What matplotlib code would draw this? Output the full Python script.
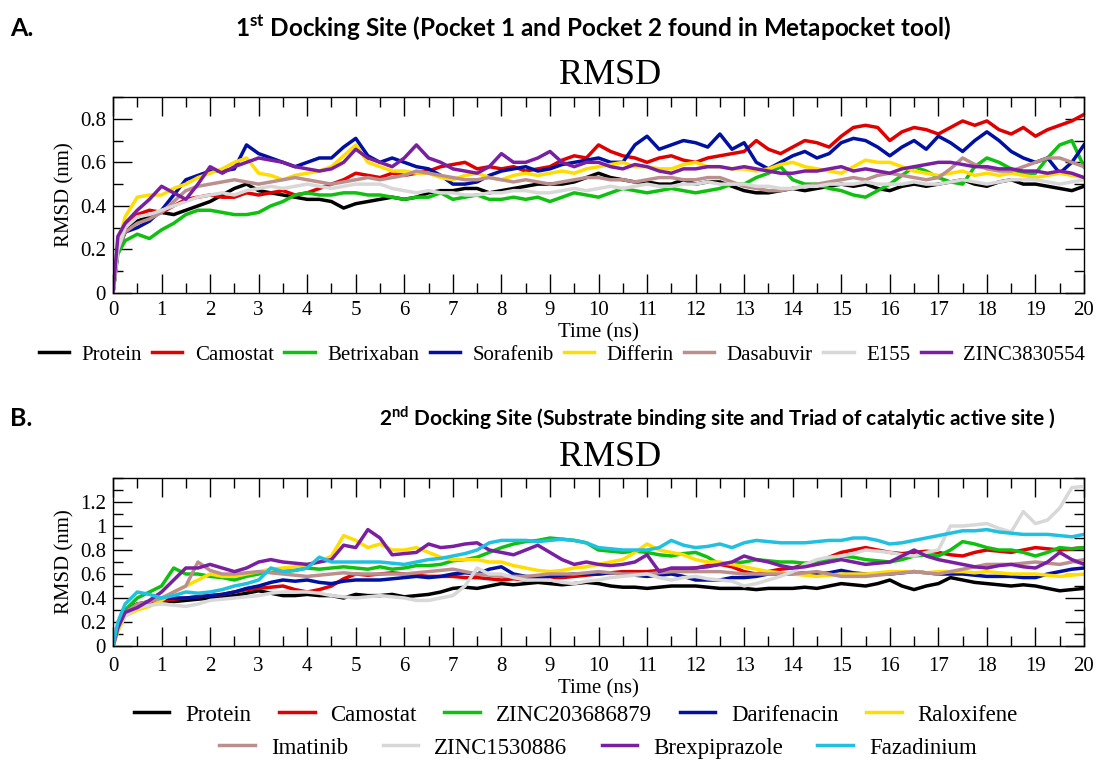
import numpy as np
import matplotlib
matplotlib.use("Agg")
import matplotlib.pyplot as plt

plt.rcParams['mathtext.fontset'] = 'custom'
plt.rcParams['mathtext.rm'] = 'Lato'
plt.rcParams['mathtext.bf'] = 'Lato:bold'

SERIF = 'Liberation Serif'

# ---------------- data ----------------
time_ns = [0, 0.1] + [0.25 * k for k in range(1, 81)]

# Panel A: 1st docking site
a_names = ["Protein", "Camostat", "Betrixaban", "Sorafenib", "Differin",
           "Dasabuvir", "E155", "ZINC3830554"]
a_protein = [0, 0.2, 0.28, 0.33, 0.35, 0.37, 0.36, 0.38, 0.4, 0.42, 0.45, 0.48, 0.5, 0.47, 0.46, 0.45,
             0.44, 0.43, 0.43, 0.42, 0.39, 0.41, 0.42, 0.43, 0.44, 0.43, 0.44, 0.46, 0.47, 0.47, 0.48,
             0.48, 0.46, 0.47, 0.48, 0.49, 0.5, 0.5, 0.5, 0.51, 0.53, 0.55, 0.53, 0.52, 0.51, 0.51,
             0.5, 0.5, 0.52, 0.5, 0.51, 0.51, 0.49, 0.47, 0.46, 0.46, 0.47, 0.48, 0.47, 0.48, 0.49,
             0.5, 0.49, 0.5, 0.48, 0.47, 0.49, 0.5, 0.49, 0.5, 0.51, 0.52, 0.5, 0.49, 0.51, 0.52,
             0.5, 0.5, 0.49, 0.48, 0.47, 0.49]
a_camostat = [0, 0.2, 0.3, 0.36, 0.38, 0.37, 0.4, 0.43, 0.44, 0.45, 0.44, 0.44, 0.46, 0.45, 0.46, 0.47,
              0.45, 0.46, 0.48, 0.5, 0.52, 0.55, 0.54, 0.53, 0.55, 0.54, 0.55, 0.56, 0.58, 0.59, 0.6,
              0.57, 0.58, 0.57, 0.58, 0.56, 0.57, 0.58, 0.61, 0.63, 0.62, 0.68, 0.65, 0.63, 0.62, 0.6,
              0.62, 0.63, 0.61, 0.6, 0.62, 0.63, 0.64, 0.65, 0.7, 0.66, 0.64, 0.67, 0.7, 0.69, 0.67,
              0.72, 0.76, 0.77, 0.76, 0.7, 0.74, 0.76, 0.75, 0.73, 0.76, 0.79, 0.77, 0.79, 0.75, 0.73,
              0.76, 0.72, 0.75, 0.77, 0.79, 0.82]
a_betrixaban = [0, 0.18, 0.24, 0.27, 0.25, 0.29, 0.32, 0.36, 0.38, 0.38, 0.37, 0.36, 0.36, 0.37, 0.4,
                0.42, 0.45, 0.46, 0.45, 0.45, 0.46, 0.46, 0.45, 0.45, 0.44, 0.43, 0.44, 0.44, 0.46,
                0.43, 0.44, 0.45, 0.43, 0.43, 0.44, 0.43, 0.44, 0.42, 0.44, 0.46, 0.45, 0.44, 0.46,
                0.48, 0.47, 0.46, 0.47, 0.48, 0.47, 0.46, 0.47, 0.48, 0.5, 0.5, 0.53, 0.55, 0.58,
                0.52, 0.5, 0.5, 0.48, 0.47, 0.45, 0.44, 0.47, 0.5, 0.54, 0.58, 0.56, 0.53, 0.51, 0.5,
                0.58, 0.62, 0.6, 0.57, 0.55, 0.55, 0.62, 0.68, 0.7, 0.58]
a_sorafenib = [0, 0.2, 0.28, 0.3, 0.33, 0.38, 0.45, 0.52, 0.54, 0.56, 0.56, 0.57, 0.68, 0.64, 0.62,
               0.6, 0.58, 0.6, 0.62, 0.62, 0.67, 0.71, 0.63, 0.6, 0.62, 0.6, 0.58, 0.57, 0.54, 0.5,
               0.5, 0.51, 0.54, 0.56, 0.57, 0.58, 0.56, 0.57, 0.59, 0.6, 0.61, 0.62, 0.6, 0.6, 0.68,
               0.72, 0.66, 0.68, 0.7, 0.69, 0.67, 0.73, 0.66, 0.69, 0.6, 0.57, 0.6, 0.63, 0.65, 0.62,
               0.64, 0.69, 0.71, 0.7, 0.67, 0.63, 0.67, 0.7, 0.66, 0.72, 0.69, 0.65, 0.7, 0.74, 0.7,
               0.65, 0.62, 0.6, 0.62, 0.55, 0.6, 0.68]
a_differin = [0, 0.22, 0.35, 0.44, 0.45, 0.45, 0.48, 0.5, 0.53, 0.55, 0.57, 0.6, 0.62, 0.55, 0.54,
              0.52, 0.54, 0.55, 0.56, 0.58, 0.63, 0.68, 0.6, 0.58, 0.56, 0.56, 0.55, 0.55, 0.53, 0.52,
              0.54, 0.55, 0.53, 0.52, 0.54, 0.55, 0.54, 0.55, 0.56, 0.55, 0.57, 0.58, 0.59, 0.6,
              0.58, 0.58, 0.57, 0.57, 0.59, 0.6, 0.58, 0.58, 0.57, 0.57, 0.56, 0.57, 0.59, 0.6, 0.58,
              0.57, 0.56, 0.55, 0.58, 0.61, 0.6, 0.6, 0.58, 0.56, 0.55, 0.54, 0.55, 0.56, 0.54, 0.55,
              0.54, 0.55, 0.54, 0.53, 0.54, 0.55, 0.54, 0.53]
a_dasabuvir = [0, 0.2, 0.28, 0.32, 0.34, 0.37, 0.42, 0.47, 0.49, 0.5, 0.51, 0.52, 0.51, 0.5, 0.51,
               0.52, 0.53, 0.52, 0.51, 0.5, 0.51, 0.52, 0.53, 0.52, 0.53, 0.54, 0.56, 0.55, 0.54,
               0.53, 0.52, 0.52, 0.53, 0.52, 0.51, 0.52, 0.51, 0.5, 0.51, 0.52, 0.53, 0.53, 0.52,
               0.52, 0.51, 0.52, 0.53, 0.53, 0.52, 0.52, 0.53, 0.53, 0.51, 0.49, 0.48, 0.47, 0.47,
               0.48, 0.49, 0.5, 0.51, 0.52, 0.53, 0.52, 0.54, 0.55, 0.54, 0.53, 0.52, 0.53, 0.57,
               0.62, 0.59, 0.57, 0.56, 0.56, 0.58, 0.6, 0.62, 0.62, 0.6, 0.58]
a_e155 = [0, 0.2, 0.3, 0.35, 0.36, 0.38, 0.4, 0.42, 0.44, 0.45, 0.46, 0.45, 0.47, 0.48, 0.49, 0.48,
          0.49, 0.5, 0.49, 0.48, 0.49, 0.5, 0.5, 0.5, 0.48, 0.47, 0.46, 0.47, 0.46, 0.46, 0.45, 0.45,
          0.46, 0.46, 0.47, 0.47, 0.46, 0.46, 0.47, 0.48, 0.47, 0.48, 0.49, 0.48, 0.49, 0.5, 0.49,
          0.49, 0.5, 0.5, 0.51, 0.5, 0.5, 0.5, 0.49, 0.49, 0.48, 0.48, 0.49, 0.49, 0.5, 0.5, 0.5,
          0.51, 0.5, 0.5, 0.5, 0.51, 0.5, 0.5, 0.51, 0.52, 0.51, 0.5, 0.51, 0.52, 0.52, 0.52, 0.51,
          0.5, 0.51, 0.52]
a_zinc3830554 = [0, 0.26, 0.32, 0.38, 0.43, 0.49, 0.46, 0.43, 0.5, 0.58, 0.55, 0.58, 0.6, 0.62, 0.61,
                 0.6, 0.58, 0.57, 0.56, 0.57, 0.6, 0.66, 0.62, 0.6, 0.58, 0.62, 0.68, 0.62, 0.6,
                 0.57, 0.56, 0.55, 0.58, 0.64, 0.6, 0.6, 0.62, 0.65, 0.6, 0.58, 0.6, 0.6, 0.58, 0.57,
                 0.59, 0.58, 0.56, 0.55, 0.57, 0.57, 0.58, 0.58, 0.57, 0.58, 0.57, 0.56, 0.55, 0.55,
                 0.56, 0.56, 0.57, 0.58, 0.56, 0.57, 0.56, 0.55, 0.57, 0.58, 0.59, 0.6, 0.6, 0.59,
                 0.58, 0.58, 0.57, 0.57, 0.56, 0.56, 0.55, 0.56, 0.55, 0.53]

# Panel B: 2nd docking site
b_names = ["Protein", "Camostat", "ZINC203686879", "Darifenacin", "Raloxifene",
           "Imatinib", "ZINC1530886", "Brexpiprazole", "Fazadinium"]
b_protein = [0, 0.15, 0.3, 0.35, 0.36, 0.38, 0.37, 0.38, 0.39, 0.4, 0.41, 0.42, 0.44, 0.46, 0.44,
             0.42, 0.42, 0.43, 0.42, 0.42, 0.4, 0.43, 0.42, 0.42, 0.43, 0.41, 0.42, 0.43, 0.45,
             0.48, 0.49, 0.48, 0.5, 0.52, 0.51, 0.52, 0.53, 0.52, 0.51, 0.52, 0.53, 0.52, 0.5,
             0.49, 0.49, 0.48, 0.49, 0.5, 0.5, 0.5, 0.49, 0.48, 0.48, 0.48, 0.47, 0.48, 0.48, 0.48,
             0.49, 0.48, 0.5, 0.52, 0.51, 0.5, 0.52, 0.55, 0.5, 0.47, 0.5, 0.52, 0.57, 0.55, 0.53,
             0.52, 0.51, 0.5, 0.51, 0.5, 0.48, 0.46, 0.47, 0.48]
b_camostat = [0, 0.15, 0.28, 0.35, 0.36, 0.38, 0.39, 0.4, 0.41, 0.42, 0.43, 0.45, 0.47, 0.48, 0.49,
              0.5, 0.47, 0.45, 0.47, 0.5, 0.56, 0.6, 0.59, 0.6, 0.61, 0.6, 0.59, 0.58, 0.58, 0.58,
              0.57, 0.57, 0.56, 0.55, 0.56, 0.55, 0.56, 0.57, 0.57, 0.58, 0.59, 0.6, 0.61, 0.62,
              0.62, 0.62, 0.63, 0.63, 0.64, 0.65, 0.67, 0.68, 0.66, 0.62, 0.6, 0.62, 0.64, 0.65,
              0.68, 0.7, 0.74, 0.78, 0.8, 0.82, 0.8, 0.78, 0.77, 0.78, 0.79, 0.78, 0.76, 0.75, 0.78,
              0.8, 0.79, 0.78, 0.8, 0.82, 0.81, 0.8, 0.81, 0.82]
b_zinc203686879 = [0, 0.15, 0.3, 0.4, 0.45, 0.5, 0.65, 0.6, 0.6, 0.58, 0.57, 0.55, 0.58, 0.6, 0.62,
                   0.62, 0.63, 0.65, 0.64, 0.65, 0.66, 0.65, 0.64, 0.66, 0.64, 0.65, 0.67, 0.67, 0.68,
                   0.71, 0.72, 0.74, 0.78, 0.82, 0.85, 0.87, 0.88, 0.9, 0.89, 0.88, 0.86, 0.8, 0.79,
                   0.78, 0.79, 0.78, 0.76, 0.75, 0.77, 0.78, 0.74, 0.68, 0.69, 0.7, 0.72, 0.71, 0.7,
                   0.7, 0.69, 0.7, 0.72, 0.75, 0.74, 0.72, 0.71, 0.7, 0.72, 0.75, 0.76, 0.75, 0.8, 0.87,
                   0.85, 0.82, 0.8, 0.8, 0.78, 0.75, 0.78, 0.82, 0.81, 0.82]
b_darifenacin = [0, 0.15, 0.28, 0.35, 0.37, 0.4, 0.4, 0.4, 0.41, 0.42, 0.43, 0.45, 0.48, 0.5, 0.53,
                 0.55, 0.54, 0.55, 0.53, 0.52, 0.54, 0.55, 0.55, 0.55, 0.56, 0.57, 0.58, 0.57, 0.58,
                 0.6, 0.61, 0.6, 0.64, 0.66, 0.6, 0.58, 0.57, 0.58, 0.59, 0.6, 0.6, 0.6, 0.61, 0.6,
                 0.59, 0.58, 0.59, 0.6, 0.58, 0.55, 0.55, 0.55, 0.57, 0.57, 0.58, 0.6, 0.6, 0.6, 0.61,
                 0.6, 0.61, 0.63, 0.61, 0.6, 0.6, 0.6, 0.61, 0.62, 0.61, 0.6, 0.6, 0.6, 0.59, 0.58,
                 0.58, 0.58, 0.57, 0.57, 0.6, 0.62, 0.64, 0.65]
b_raloxifene = [0, 0.12, 0.25, 0.3, 0.33, 0.38, 0.45, 0.5, 0.55, 0.6, 0.58, 0.58, 0.6, 0.62, 0.64,
                0.65, 0.66, 0.68, 0.7, 0.75, 0.92, 0.88, 0.82, 0.85, 0.8, 0.8, 0.82, 0.78, 0.74, 0.72,
                0.72, 0.72, 0.7, 0.7, 0.67, 0.65, 0.63, 0.62, 0.63, 0.65, 0.66, 0.68, 0.7, 0.72,
                0.78, 0.85, 0.8, 0.78, 0.76, 0.72, 0.7, 0.7, 0.68, 0.66, 0.64, 0.62, 0.61, 0.6, 0.59,
                0.58, 0.59, 0.6, 0.6, 0.6, 0.61, 0.62, 0.62, 0.62, 0.61, 0.62, 0.62, 0.62, 0.61, 0.62,
                0.61, 0.6, 0.6, 0.6, 0.59, 0.58, 0.59, 0.6]
b_imatinib = [0, 0.15, 0.28, 0.35, 0.37, 0.4, 0.45, 0.5, 0.7, 0.63, 0.6, 0.6, 0.61, 0.62, 0.61, 0.6,
              0.59, 0.58, 0.59, 0.6, 0.61, 0.6, 0.6, 0.6, 0.6, 0.6, 0.61, 0.62, 0.63, 0.64, 0.62,
              0.6, 0.59, 0.58, 0.58, 0.58, 0.59, 0.6, 0.6, 0.6, 0.61, 0.62, 0.61, 0.6, 0.6, 0.6,
              0.61, 0.62, 0.62, 0.62, 0.62, 0.62, 0.61, 0.6, 0.6, 0.6, 0.6, 0.6, 0.61, 0.62, 0.6,
              0.58, 0.58, 0.58, 0.59, 0.6, 0.61, 0.62, 0.61, 0.6, 0.62, 0.64, 0.66, 0.68, 0.68, 0.68,
              0.69, 0.7, 0.69, 0.68, 0.7, 0.72]
b_zinc1530886 = [0, 0.15, 0.25, 0.32, 0.34, 0.35, 0.34, 0.33, 0.35, 0.38, 0.39, 0.4, 0.41, 0.42, 0.44,
                 0.45, 0.45, 0.45, 0.44, 0.42, 0.41, 0.4, 0.41, 0.42, 0.41, 0.4, 0.38, 0.38, 0.4,
                 0.42, 0.5, 0.65, 0.6, 0.6, 0.57, 0.55, 0.55, 0.55, 0.53, 0.52, 0.54, 0.55, 0.57,
                 0.58, 0.59, 0.6, 0.57, 0.55, 0.57, 0.58, 0.56, 0.55, 0.54, 0.5, 0.52, 0.55, 0.58,
                 0.62, 0.68, 0.72, 0.74, 0.75, 0.77, 0.8, 0.79, 0.78, 0.76, 0.75, 0.78, 0.8, 1.0, 1.0,
                 1.01, 1.02, 0.98, 0.95, 1.12, 1.02, 1.05, 1.15, 1.32, 1.33]
b_brexpiprazole = [0, 0.15, 0.28, 0.32, 0.38, 0.45, 0.55, 0.65, 0.65, 0.68, 0.65, 0.62, 0.65, 0.7,
                   0.72, 0.7, 0.69, 0.68, 0.7, 0.72, 0.84, 0.82, 0.97, 0.9, 0.76, 0.77, 0.78, 0.85,
                   0.82, 0.83, 0.85, 0.86, 0.8, 0.78, 0.76, 0.8, 0.84, 0.78, 0.72, 0.68, 0.7, 0.68,
                   0.67, 0.68, 0.7, 0.76, 0.62, 0.65, 0.65, 0.65, 0.66, 0.68, 0.7, 0.75, 0.72, 0.7,
                   0.67, 0.65, 0.66, 0.68, 0.7, 0.72, 0.7, 0.68, 0.69, 0.7, 0.75, 0.8, 0.75, 0.72, 0.7,
                   0.68, 0.66, 0.65, 0.67, 0.68, 0.66, 0.65, 0.7, 0.78, 0.72, 0.68]
b_fazadinium = [0, 0.2, 0.35, 0.45, 0.43, 0.4, 0.42, 0.45, 0.44, 0.45, 0.47, 0.5, 0.52, 0.55, 0.65,
                0.62, 0.63, 0.65, 0.74, 0.7, 0.7, 0.7, 0.7, 0.7, 0.69, 0.68, 0.7, 0.72, 0.73, 0.75,
                0.77, 0.8, 0.86, 0.88, 0.88, 0.88, 0.87, 0.88, 0.89, 0.88, 0.86, 0.82, 0.81, 0.8, 0.8,
                0.8, 0.82, 0.88, 0.84, 0.82, 0.83, 0.85, 0.82, 0.86, 0.88, 0.87, 0.86, 0.86, 0.86,
                0.87, 0.88, 0.88, 0.9, 0.9, 0.88, 0.85, 0.86, 0.88, 0.9, 0.92, 0.94, 0.96, 0.96, 0.97,
                0.95, 0.94, 0.93, 0.93, 0.93, 0.92, 0.91, 0.93]

a_series = [a_protein, a_camostat, a_betrixaban, a_sorafenib, a_differin,
            a_dasabuvir, a_e155, a_zinc3830554]
b_series = [b_protein, b_camostat, b_zinc203686879, b_darifenacin, b_raloxifene,
            b_imatinib, b_zinc1530886, b_brexpiprazole, b_fazadinium]

a_colors = ["#000000", "#e00000", "#10c010", "#0010a0", "#ffdd00",
            "#bc8f8f", "#d8d8d8", "#7a1fa2"]
b_colors = ["#000000", "#e00000", "#10c010", "#0010a0", "#ffdd00",
            "#bc8f8f", "#d8d8d8", "#7a1fa2", "#20c0e0"]

# ---------------- figure ----------------
W, H = 1097, 760
fig = plt.figure(figsize=(W / 100, H / 100), dpi=100)


def fx(px):
    return px / W


def fy(py):
    return 1 - py / H


def style_axes(ax, ymax, ystep, xpad):
    ax.set_xlim(0, 20)
    ax.set_ylim(0, ymax)
    ax.set_xticks(np.arange(0, 21, 1))
    ax.set_xticks(np.arange(0, 20.01, 0.5), minor=True)
    yt = np.round(np.arange(0, ymax - 1e-9, ystep), 2)
    ax.set_yticks(yt)
    ax.set_yticks(np.round(np.arange(0, ymax + 1e-9, ystep / 2), 2), minor=True)
    ax.set_yticklabels([("%g" % v) for v in yt])
    ax.tick_params(which='both', direction='in', top=True, right=True, width=1.0,
                   labelsize=15, pad=5)
    ax.tick_params(axis='x', which='both', pad=xpad)
    ax.tick_params(which='major', length=14)
    ax.tick_params(which='minor', length=7)
    for lab in ax.get_xticklabels() + ax.get_yticklabels():
        lab.set_fontfamily(SERIF)
    for s in ax.spines.values():
        s.set_linewidth(1.0)
    ax.set_xlabel("Time (ns)", fontfamily=SERIF, fontsize=15, labelpad=2)
    ax.set_ylabel("RMSD (nm)", fontfamily=SERIF, fontsize=15, labelpad=4)


# Panel A
axA = fig.add_axes([fx(113), fy(293), fx(1084 - 113), (293 - 97) / H])
linesA = []
for name, vals, c in zip(a_names, a_series, a_colors):
    ln, = axA.plot(time_ns, vals, color=c, lw=2.5, label=name, solid_joinstyle='round')
    linesA.append(ln)
style_axes(axA, 0.9, 0.2, 6)

# Panel B
axB = fig.add_axes([fx(113), fy(646), fx(1084 - 113), (646 - 478) / H])
linesB = []
for name, vals, c in zip(b_names, b_series, b_colors):
    ln, = axB.plot(time_ns, vals, color=c, lw=2.5, label=name, solid_joinstyle='round')
    linesB.append(ln)
style_axes(axB, 1.4, 0.2, 8)

# Titles / labels
fig.text(fx(10), fy(28), "A.", fontsize=18, fontweight='bold', fontfamily='Lato', va='center')
fig.text(fx(593), fy(28), r"1$^{\mathbf{st}}$ Docking Site (Pocket 1 and Pocket 2 found in Metapocket tool)",
         fontsize=17.5, fontweight='bold', fontfamily='Lato', ha='center', va='center')
fig.text(fx(610), fy(75), "RMSD", fontsize=26, fontfamily=SERIF, ha='center', va='center')

fig.text(fx(10), fy(418), "B.", fontsize=18, fontweight='bold', fontfamily='Lato', va='center')
fig.text(fx(717), fy(418), r"2$^{\mathbf{nd}}$ Docking Site (Substrate binding site and Triad of catalytic active site )",
         fontsize=15, fontweight='bold', fontfamily='Lato', ha='center', va='center')
fig.text(fx(610), fy(458), "RMSD", fontsize=26, fontfamily=SERIF, ha='center', va='center')

# Legends
legA = fig.legend(handles=linesA, loc='center', bbox_to_anchor=(fx(562), fy(355)), ncol=8,
                  frameon=False, prop={'family': SERIF, 'size': 15}, handlelength=1.45,
                  handletextpad=0.6, columnspacing=0.5, borderaxespad=0, borderpad=0)
legB1 = fig.legend(handles=linesB[:5], loc='center', bbox_to_anchor=(fx(576), fy(715)), ncol=5,
                   frameon=False, prop={'family': SERIF, 'size': 16.5}, handlelength=1.55,
                   handletextpad=0.7, columnspacing=1.2, borderaxespad=0, borderpad=0)
legB2 = fig.legend(handles=linesB[5:], loc='center', bbox_to_anchor=(fx(598), fy(748)), ncol=4,
                   frameon=False, prop={'family': SERIF, 'size': 16.5}, handlelength=1.55,
                   handletextpad=0.7, columnspacing=1.5, borderaxespad=0, borderpad=0)
for leg in (legA, legB1, legB2):
    for h in leg.get_lines():
        h.set_linewidth(2.5)

fig.savefig("out.png", dpi=100)
